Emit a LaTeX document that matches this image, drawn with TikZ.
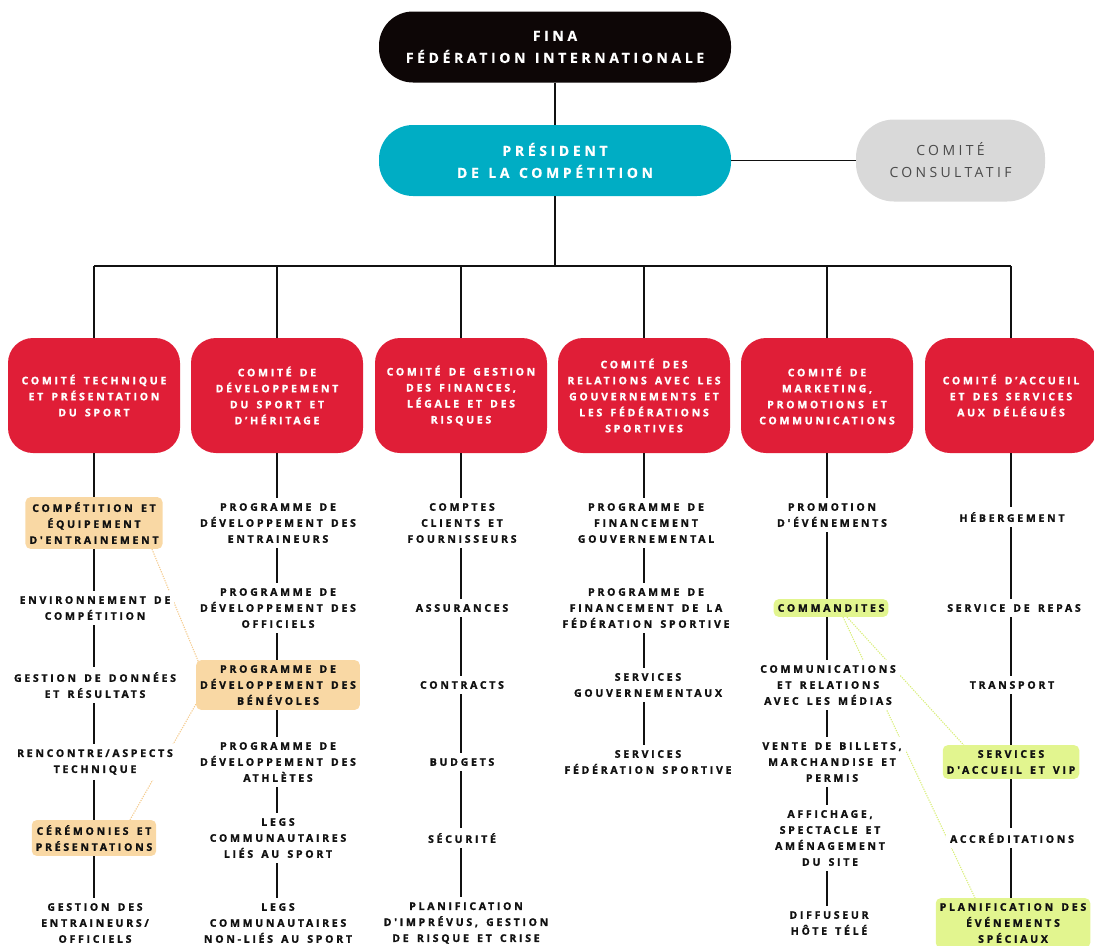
\documentclass[tikz,border=0pt]{standalone}
\usepackage{fontspec}
\setmainfont{Open Sans}
\newfontfamily\spaced[LetterSpace=26, WordSpace=1.5, BoldFeatures={FakeBold=1.4}]{Open Sans}
\newfontfamily\spacedtop[LetterSpace=26, WordSpace=1.3, BoldFeatures={FakeBold=0.6}]{Open Sans}
\newfontfamily\spacedlight[LetterSpace=24]{Open Sans}
\usetikzlibrary{calc}
\definecolor{finablack}{HTML}{0D0606}
\definecolor{presteal}{HTML}{00ADC4}
\definecolor{consgrey}{HTML}{D9D9D9}
\definecolor{constext}{HTML}{4A4A4A}
\definecolor{comred}{HTML}{E01E37}
\definecolor{inkblack}{HTML}{111111}
\definecolor{orangefill}{HTML}{F9D8A4}
\definecolor{greenfill}{HTML}{E2F58F}
\definecolor{orangeline}{HTML}{F4CB8E}
\definecolor{greenline}{HTML}{D9EE7A}
\pgfdeclarelayer{bg}
\pgfsetlayers{bg,main}
\tikzset{
  item/.style={fill=white, align=center, inner xsep=4pt, inner ysep=5pt, text=inkblack,
    font=\spaced\bfseries\fontsize{10.5}{16}\selectfont},
  itemorange/.style={item, fill=orangefill, rounded corners=5pt},
  itemgreen/.style={item, fill=greenfill, rounded corners=5pt},
  topbox/.style={rounded corners=34pt, minimum width=352pt, minimum height=71pt, align=center,
    text=white, font=\spacedtop\bfseries\fontsize{14}{22}\selectfont},
  comite/.style={fill=comred, rounded corners=25pt, minimum width=172pt, minimum height=115pt,
    inner xsep=2pt, align=center, text=white, font=\spaced\bfseries\fontsize{10.5}{16}\selectfont},
  link/.style={draw=inkblack, line width=1.4pt},
  hlo/.style={draw=orangeline, line width=1.1pt, dash pattern=on 1.2pt off 1.2pt},
  hlg/.style={draw=greenline, line width=1.1pt, dash pattern=on 1.2pt off 1.2pt},
}
\begin{document}
\begin{tikzpicture}[x=1pt,y=-1pt]
\useasboundingbox (0,0) rectangle (1094,945);

% top
\node[topbox, fill=finablack] (fina) at (555,47) {FINA\\FÉDÉRATION INTERNATIONALE};
\node[topbox, fill=presteal] (pres) at (555,160.5) {PRÉSIDENT\\DE LA COMPÉTITION};
\node[fill=consgrey, rounded corners=38pt, minimum width=189pt, minimum height=82pt, align=center,
  text=constext, font=\spacedlight\fontsize{14}{22}\selectfont] (cons) at (950.5,160.5) {COMITÉ\\CONSULTATIF};
\coordinate (bus) at (555,266);

% committees
\node[comite] (k1) at (94,395.5) {COMITÉ TECHNIQUE\\ET PRÉSENTATION\\DU SPORT};
\node[comite] (k2) at (277,395.5) {COMITÉ DE\\DÉVELOPPEMENT\\DU SPORT ET\\D’HÉRITAGE};
\node[comite] (k3) at (461,395.5) {COMITÉ DE GESTION\\DES FINANCES,\\LÉGALE ET DES\\RISQUES};
\node[comite] (k4) at (644,395.5) {COMITÉ DES\\RELATIONS AVEC LES\\GOUVERNEMENTS ET\\LES FÉDÉRATIONS\\SPORTIVES};
\node[comite] (k5) at (827,395.5) {COMITÉ DE\\MARKETING,\\PROMOTIONS ET\\COMMUNICATIONS};
\node[comite] (k6) at (1011,395.5) {COMITÉ D’ACCUEIL\\ET DES SERVICES\\AUX DÉLÉGUÉS};

% column 1
\node[itemorange] (c1a) at (94,523) {COMPÉTITION ET\\ÉQUIPEMENT\\D'ENTRAINEMENT};
\node[item] (c1b) at (95,608) {ENVIRONNEMENT DE\\COMPÉTITION};
\node[item] (c1c) at (95,685) {GESTION DE DONNÉES\\ET RÉSULTATS};
\node[item] (c1d) at (95,762) {RENCONTRE/ASPECTS\\TECHNIQUE};
\node[itemorange] (c1e) at (94,838) {CÉRÉMONIES ET\\PRÉSENTATIONS};
\node[item] (c1f) at (95,923) {GESTION DES\\ENTRAINEURS/\\OFFICIELS};

% column 2
\node[item] (c2a) at (278,523) {PROGRAMME DE\\DÉVELOPPEMENT DES\\ENTRAINEURS};
\node[item] (c2b) at (278,608) {PROGRAMME DE\\DÉVELOPPEMENT DES\\OFFICIELS};
\node[itemorange] (c2c) at (278,685) {PROGRAMME DE\\DÉVELOPPEMENT DES\\BÉNÉVOLES};
\node[item] (c2d) at (278,762) {PROGRAMME DE\\DÉVELOPPEMENT DES\\ATHLÈTES};
\node[item] (c2e) at (278,838) {LEGS\\COMMUNAUTAIRES\\LIÉS AU SPORT};
\node[item] (c2f) at (278,923) {LEGS\\COMMUNAUTAIRES\\NON-LIÉS AU SPORT};

% column 3
\node[item] (c3a) at (462,523) {COMPTES\\CLIENTS ET\\FOURNISSEURS};
\node[item] (c3b) at (462,608) {ASSURANCES};
\node[item] (c3c) at (462,685) {CONTRACTS};
\node[item] (c3d) at (462,762) {BUDGETS};
\node[item] (c3e) at (462,838) {SÉCURITÉ};
\node[item] (c3f) at (466,923) {PLANIFICATION\\D'IMPRÉVUS, GESTION\\DE RISQUE ET CRISE};

% column 4
\node[item] (c4a) at (646,523) {PROGRAMME DE\\FINANCEMENT\\GOUVERNEMENTAL};
\node[item] (c4b) at (646,608) {PROGRAMME DE\\FINANCEMENT DE LA\\FÉDÉRATION SPORTIVE};
\node[item] (c4c) at (648,685) {SERVICES\\GOUVERNEMENTAUX};
\node[item] (c4d) at (648,762) {SERVICES\\FÉDÉRATION SPORTIVE};

% column 5
\node[item] (c5a) at (832,515) {PROMOTION\\D'ÉVÉNEMENTS};
\node[itemgreen] (c5b) at (831,608) {COMMANDITES};
\node[item] (c5c) at (828,685) {COMMUNICATIONS\\ET RELATIONS\\AVEC LES MÉDIAS};
\node[item] (c5d) at (832,762) {VENTE DE BILLETS,\\MARCHANDISE ET\\PERMIS};
\node[item] (c5e) at (830,838) {AFFICHAGE,\\SPECTACLE ET\\AMÉNAGEMENT\\DU SITE};
\node[item] (c5f) at (829,923) {DIFFUSEUR\\HÔTE TÉLÉ};

% column 6
\node[item] (c6a) at (1012,517) {HÉBERGEMENT};
\node[item] (c6b) at (1014,608) {SERVICE DE REPAS};
\node[item] (c6c) at (1012,685) {TRANSPORT};
\node[itemgreen] (c6d) at (1011,762) {SERVICES\\D'ACCUEIL ET VIP};
\node[item] (c6e) at (1012,838) {ACCRÉDITATIONS};
\node[itemgreen] (c6f) at (1013,923) {PLANIFICATION DES\\ÉVÉNEMENTS\\SPÉCIAUX};

% top connectors
\draw[link] (fina) -- (pres);
\draw[link] (pres.east) -- (pres.east -| cons.west);
\draw[link] (pres) -- (bus);
\draw[link] (k1.north |- bus) -- (k6.north |- bus);
\foreach \k in {k1,k2,k3,k4,k5,k6}
  \draw[link] (\k.north |- bus) -- (\k.north);

% column connectors
\foreach \k/\a/\b in {k1/k1/c1a, k1/c1a/c1b, k1/c1b/c1c, k1/c1c/c1d, k1/c1d/c1e, k1/c1e/c1f,
  k2/k2/c2a, k2/c2a/c2b, k2/c2b/c2c, k2/c2c/c2d, k2/c2d/c2e, k2/c2e/c2f,
  k3/k3/c3a, k3/c3a/c3b, k3/c3b/c3c, k3/c3c/c3d, k3/c3d/c3e, k3/c3e/c3f,
  k4/k4/c4a, k4/c4a/c4b, k4/c4b/c4c, k4/c4c/c4d,
  k5/k5/c5a, k5/c5a/c5b, k5/c5b/c5c, k5/c5c/c5d, k5/c5d/c5e, k5/c5e/c5f,
  k6/k6/c6a, k6/c6a/c6b, k6/c6b/c6c, k6/c6c/c6d, k6/c6d/c6e, k6/c6e/c6f}
  \draw[link] (\a.south -| \k) -- (\b.north -| \k);

% highlight links
\begin{pgfonlayer}{bg}
\draw[hlo] ($(c1a.south)+(58,0)$) -- ($(c2c)+(-75,-12)$);
\draw[hlo] ($(c1e.north)+(36,0)$) -- ($(c2c)+(-78,12)$);
\draw[hlg] ($(c5b.south)+(12,0)$) -- ($(c6f.north)+(-38,0)$);
\draw[hlg] ($(c5b.south)+(16,0)$) -- ($(c6d)+(-41,-10)$);
\end{pgfonlayer}
\end{tikzpicture}
\end{document}
